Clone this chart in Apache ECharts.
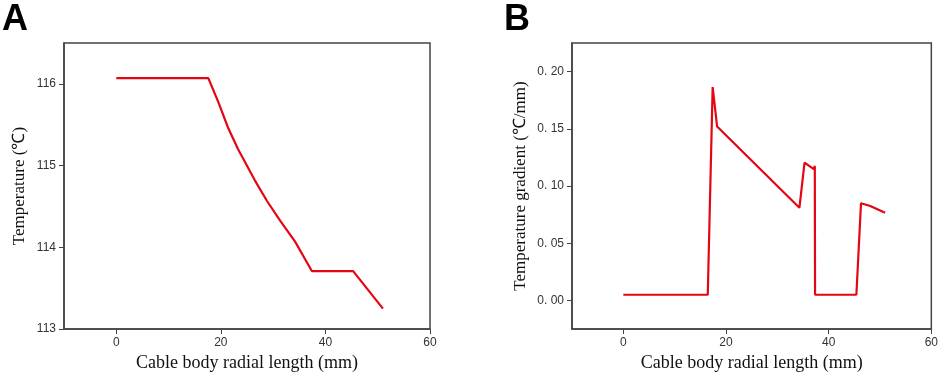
<!DOCTYPE html>
<html>
<head>
<meta charset="utf-8">
<script src="https://cdn.jsdelivr.net/npm/echarts@6/dist/echarts.min.js"></script>
<style>
  html, body { margin: 0; padding: 0; background: #fff; }
  #main { width: 941px; height: 377px; }
</style>
</head>
<body>
<div id="main"></div>
<script>
// panel A: temperature along the radius
const radiusA = [0, 17.6, 19.5, 21.4, 23.3, 26.5, 28.8, 31.3, 34.2, 37.4, 45.3, 51.0];
const temperature = [116.07, 116.07, 115.78, 115.46, 115.2, 114.82, 114.57, 114.33, 114.07, 113.71, 113.71, 113.25];

// panel B: temperature gradient along the radius
const radiusB = [0, 16.45, 17.4, 18.27, 34.3, 35.3, 37.1, 37.3, 37.35, 45.4, 46.3, 48.1, 48.4, 51.0];
const gradient = [0.005, 0.005, 0.1865, 0.152, 0.081, 0.1205, 0.1147, 0.1176, 0.005, 0.005, 0.085, 0.0826, 0.0841, 0.0766];

const xTicks = [0, 20, 40, 60];
const yTicksA = [113, 114, 115, 116];
const yTicksB = [0, 0.05, 0.1, 0.15, 0.2];

const xTitle = "Cable body radial length (mm)";
const yTitleA = "Temperature (℃)";
const yTitleB = "Temperature gradient (℃/mm)";

const frame = "#444";
const red = "#e30613";
const serif = "'Liberation Serif', 'Times New Roman', serif";
const sans = "'Liberation Sans', Arial, sans-serif";

function xAxis(idx) {
  return {
    type: "value", gridIndex: idx, min: -10, max: 60,
    name: xTitle, nameLocation: "middle", nameGap: 22,
    nameTextStyle: { fontFamily: serif, fontSize: 18, color: "#111" },
    axisLine: { onZero: false, lineStyle: { color: frame, width: 1.5 } },
    axisTick: { customValues: xTicks, length: 5, lineStyle: { color: frame } },
    axisLabel: { customValues: xTicks, fontFamily: sans, fontSize: 12, color: "#333", margin: 8 },
    splitLine: { show: false }
  };
}

function yAxis(idx, min, max, ticks, title, gap, fmt) {
  return {
    type: "value", gridIndex: idx, min: min, max: max,
    name: title, nameLocation: "middle", nameGap: gap,
    nameTextStyle: { fontFamily: serif, fontSize: 17, color: "#111" },
    axisLine: { show: true, onZero: false, lineStyle: { color: frame, width: 1.5 } },
    axisTick: { show: true, customValues: ticks, length: 5, lineStyle: { color: frame } },
    axisLabel: { customValues: ticks, fontFamily: sans, fontSize: 12, color: "#333", margin: 8, formatter: fmt },
    splitLine: { show: false }
  };
}

const chart = echarts.init(document.getElementById("main"), null, { renderer: "canvas" });

chart.setOption({
  backgroundColor: "#fff",
  animation: false,
  graphic: [
    { type: "text", left: 2, top: 2, style: { text: "A", font: "bold 36px " + sans, fill: "#000" } },
    { type: "text", left: 504, top: 2, style: { text: "B", font: "bold 36px " + sans, fill: "#000" } }
  ],
  grid: [
    { left: 64, right: 511, top: 43, bottom: 43, show: true, borderColor: frame, borderWidth: 1.5 },
    { left: 572, right: 8, top: 43, bottom: 43, show: true, borderColor: frame, borderWidth: 1.5 }
  ],
  xAxis: [xAxis(0), xAxis(1)],
  yAxis: [
    yAxis(0, 113, 116.5, yTicksA, yTitleA, 36, (v) => String(v)),
    yAxis(1, -0.025, 0.225, yTicksB, yTitleB, 43, (v) => v.toFixed(2).replace(".", ". "))
  ],
  series: [
    {
      type: "line", xAxisIndex: 0, yAxisIndex: 0,
      data: radiusA.map((x, i) => [x, temperature[i]]),
      showSymbol: false, lineStyle: { color: red, width: 2.2 }
    },
    {
      type: "line", xAxisIndex: 1, yAxisIndex: 1,
      data: radiusB.map((x, i) => [x, gradient[i]]),
      showSymbol: false, lineStyle: { color: red, width: 2.2 }
    }
  ]
});
</script>
</body>
</html>
